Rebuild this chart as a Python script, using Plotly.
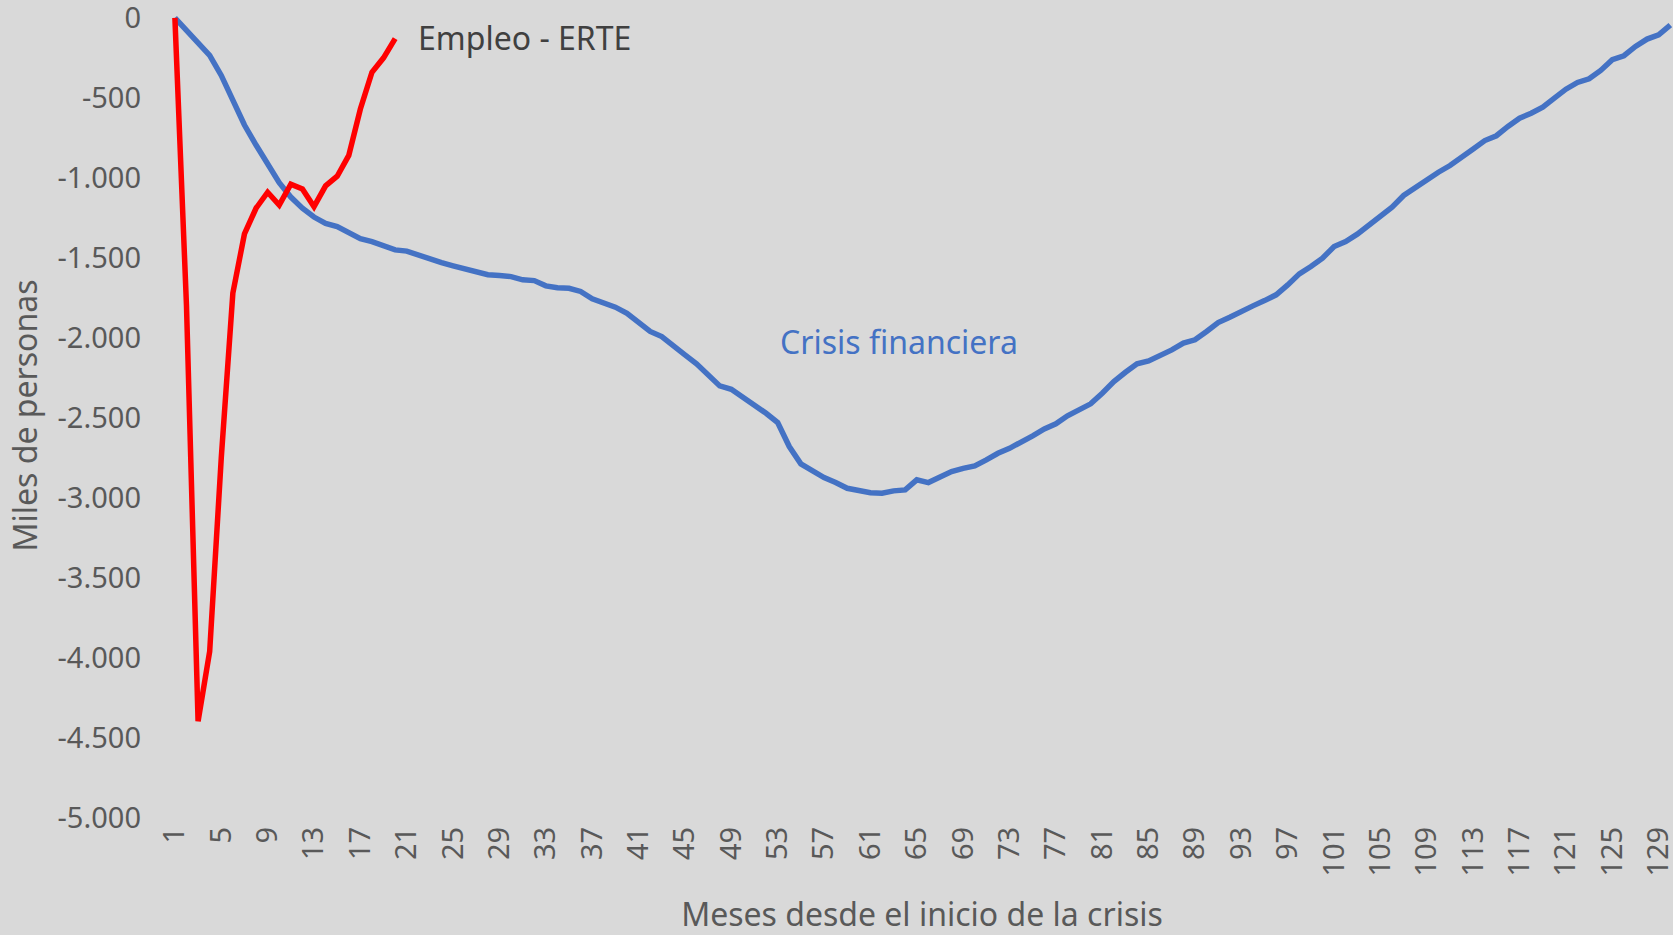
import plotly.graph_objects as go

# ---------------- data ----------------
months = list(range(1, 131))

crisis_financiera = [
    0, -75, -150, -235, -360, -515, -670, -795, -920, -1030,
    -1120, -1190, -1245, -1285, -1305, -1345, -1380, -1398, -1420, -1450,
    -1458, -1485, -1510, -1530, -1550, -1568, -1587, -1605, -1610, -1617,
    -1637, -1642, -1675, -1687, -1690, -1710, -1756, -1779, -1808, -1846,
    -1908, -1960, -1992, -2044, -2106, -2162, -2231, -2300, -2321, -2371,
    -2412, -2471, -2529, -2679, -2787, -2835, -2873, -2904, -2940, -2954,
    -2967, -2971, -2956, -2950, -2887, -2904, -2866, -2835, -2815, -2800,
    -2762, -2721, -2690, -2654, -2612, -2569, -2537, -2487, -2446, -2412,
    -2346, -2273, -2215, -2162, -2144, -2112, -2075, -2033, -2012, -1960,
    -1904, -1871, -1840, -1800, -1767, -1731, -1669, -1600, -1554, -1502,
    -1429, -1398, -1352, -1294, -1242, -1183, -1110, -1060, -1012, -965,
    -923, -867, -820, -767, -737, -679, -627, -596, -558, -502,
    -446, -404, -381, -329, -262, -237, -179, -133, -106, -45,
]

empleo_erte = [
    0, -1800, -4395, -3960, -2750, -1720, -1350, -1190, -1090, -1170,
    -1040, -1070, -1180, -1050, -990, -860, -570, -340, -250, -130,
]

x_tick_vals = list(range(1, 130, 4))
x_tick_text = [str(v) for v in x_tick_vals]

y_tick_vals = [0, -500, -1000, -1500, -2000, -2500, -3000, -3500, -4000, -4500, -5000]
y_tick_text = ["0", "-500", "-1.000", "-1.500", "-2.000", "-2.500", "-3.000",
               "-3.500", "-4.000", "-4.500", "-5.000"]

label_erte = "Empleo - ERTE"
label_crisis = "Crisis financiera"
x_title = "Meses desde el inicio de la crisis"
y_title = "Miles de personas"

# ---------------- styles ----------------
BG = "#D9D9D9"
BLUE = "#4472C4"
RED = "#FF0000"
GREY = "#595959"
FONT = "Noto Sans"

fig = go.Figure()
fig.add_trace(go.Scatter(x=months, y=crisis_financiera, mode="lines",
                         line=dict(color=BLUE, width=5.5), name=label_crisis,
                         hoverinfo="skip"))
fig.add_trace(go.Scatter(x=months[:len(empleo_erte)], y=empleo_erte, mode="lines",
                         line=dict(color=RED, width=5.5), name=label_erte,
                         hoverinfo="skip"))

fig.add_annotation(x=len(empleo_erte) + 1.8, y=empleo_erte[-1] + 10, text=label_erte,
                   showarrow=False, xanchor="left", yanchor="middle",
                   font=dict(family=FONT, size=32, color="#404040"))
fig.add_annotation(x=53, y=-2025, text=label_crisis,
                   showarrow=False, xanchor="left", yanchor="middle",
                   font=dict(family=FONT, size=32, color=BLUE))

fig.update_layout(
    width=1673, height=935,
    paper_bgcolor=BG, plot_bgcolor=BG,
    margin=dict(l=172, r=1, t=13, b=117, autoexpand=False),
    showlegend=False,
    font=dict(family=FONT, color=GREY),
    xaxis=dict(range=[0.75, 130.15], tickmode="array", tickvals=x_tick_vals,
               ticktext=x_tick_text, tickangle=-90, showgrid=False,
               zeroline=False, showline=False, ticks="", automargin=False,
               ticklabelstandoff=2, ticklabeloverflow="allow",
               tickfont=dict(family=FONT, size=29, color=GREY),
               title=dict(text=x_title, standoff=36,
                          font=dict(family=FONT, size=32, color=GREY))),
    yaxis=dict(range=[-5000, 30], tickmode="array", tickvals=y_tick_vals,
               ticktext=y_tick_text, showgrid=False, zeroline=False,
               showline=False, ticks="", ticklabelstandoff=30, automargin=False,
               ticklabeloverflow="allow",
               tickfont=dict(family=FONT, size=29, color=GREY),
               title=dict(text=y_title, standoff=10,
                          font=dict(family=FONT, size=32, color=GREY))),
)

fig.write_html("out.html", config={"displayModeBar": False},
               post_script="document.body.style.margin='0';document.body.style.overflow='hidden';")
